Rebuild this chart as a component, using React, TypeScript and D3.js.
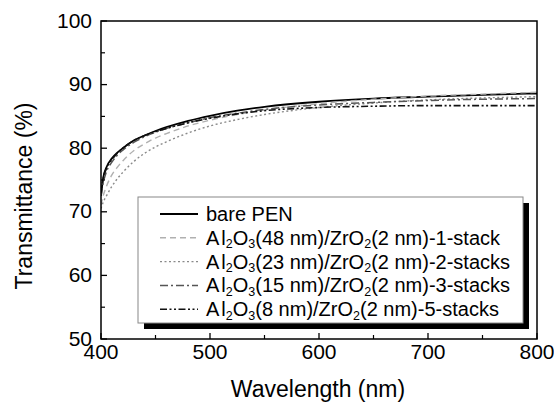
import React from "react";
import * as d3 from "d3";

const wavelengths = [400, 402, 405, 410, 415, 420, 430, 440, 450, 460, 480, 500, 525, 550, 600, 650, 700, 750, 800];
const barePEN = [72.5, 75.3, 77.0, 78.4, 79.3, 80.0, 81.2, 82.0, 82.7, 83.3, 84.3, 85.1, 85.9, 86.5, 87.3, 87.8, 88.1, 88.4, 88.6];
const stack1 = [71.0, 72.5, 74.0, 75.8, 77.0, 78.0, 79.6, 80.7, 81.6, 82.3, 83.5, 84.4, 85.3, 86.0, 87.0, 87.7, 88.2, 88.5, 88.8];
const stack2 = [70.5, 71.5, 72.5, 74.0, 75.2, 76.2, 77.9, 79.2, 80.2, 81.0, 82.4, 83.5, 84.5, 85.3, 86.4, 87.1, 87.6, 87.9, 88.1];
const stack3 = [72.5, 74.5, 76.3, 77.8, 78.9, 79.7, 80.9, 81.8, 82.5, 83.1, 84.0, 84.8, 85.5, 86.1, 86.8, 87.2, 87.5, 87.7, 87.8];
const stack5 = [73.0, 75.2, 76.8, 78.2, 79.2, 80.0, 81.2, 82.0, 82.6, 83.1, 84.0, 84.7, 85.4, 85.9, 86.4, 86.6, 86.7, 86.7, 86.7];

const xTicks = [400, 500, 600, 700, 800];
const yTicks = [50, 60, 70, 80, 90, 100];
const xMinor = [450, 550, 650, 750];
const yMinor = [55, 65, 75, 85, 95];

const legendThick = ["48", "23", "15", "8"];
const legendStacks = ["1-stack", "2-stacks", "3-stacks", "5-stacks"];

const seriesStyles = [
  { color: "#000", dash: "", width: 1.8 },
  { color: "#b0b0b0", dash: "6,4", width: 1.4 },
  { color: "#8a8a8a", dash: "2,2.5", width: 1.4 },
  { color: "#555", dash: "8,3,2,3", width: 1.5 },
  { color: "#111", dash: "7,2.5,2,2.5,2,2.5", width: 1.6 },
];

const FONT = "'Liberation Sans', Arial, sans-serif";

export default function App() {
  const W = 554, H = 403;
  const left = 101, right = 537, top = 21, bottom = 339;
  const x = d3.scaleLinear().domain([400, 800]).range([left, right]);
  const y = d3.scaleLinear().domain([50, 100]).range([bottom, top]);
  const line = d3.line<number>().x((_, i) => x(wavelengths[i])).y((d) => y(d)).curve(d3.curveMonotoneX);
  const allSeries = [barePEN, stack1, stack2, stack3, stack5];

  const lgX = 138, lgY = 197, lgW = 385, lgH = 126;
  const rowY = (i: number) => 214 + i * 23.8;

  const sub = (t: string) => (
    <tspan fontSize={12.5} dy={3.5}>{t}</tspan>
  );
  const alLabel = (thick: string, st: string) => (
    <>
      <tspan>A</tspan>
      <tspan dx={2}>l</tspan>
      {sub("2")}
      <tspan dy={-3.5}>O</tspan>
      {sub("3")}
      <tspan dy={-3.5}>{`(${thick} nm)/ZrO`}</tspan>
      {sub("2")}
      <tspan dy={-3.5}>{`(2 nm)-${st}`}</tspan>
    </>
  );

  return (
    <svg width={W} height={H} style={{ position: "absolute", left: 0, top: 0, background: "#fff" }} fontFamily={FONT}>
      <rect x={0} y={0} width={W} height={H} fill="#fff" />
      <defs>
        <clipPath id="plotclip">
          <rect x={left} y={top} width={right - left} height={bottom - top} />
        </clipPath>
      </defs>
      <g clipPath="url(#plotclip)">
        {allSeries.map((s, k) => (
          <path key={k} d={line(s) || ""} fill="none" stroke={seriesStyles[k].color}
            strokeWidth={seriesStyles[k].width} strokeDasharray={seriesStyles[k].dash} />
        ))}
      </g>
      <rect x={left} y={top} width={right - left} height={bottom - top} fill="none" stroke="#000" strokeWidth={1.5} />
      {xTicks.map((t) => (
        <g key={"xt" + t}>
          <line x1={x(t)} x2={x(t)} y1={bottom} y2={bottom - 6} stroke="#000" strokeWidth={1.3} />
          <text x={x(t)} y={bottom + 20} textAnchor="middle" fontSize={21}>{t}</text>
        </g>
      ))}
      {xMinor.map((t) => (
        <line key={"xm" + t} x1={x(t)} x2={x(t)} y1={bottom} y2={bottom - 4} stroke="#000" strokeWidth={1.2} />
      ))}
      {yTicks.map((t) => (
        <g key={"yt" + t}>
          <line x1={left} x2={left + 6} y1={y(t)} y2={y(t)} stroke="#000" strokeWidth={1.3} />
          <text x={92} y={y(t) + 6.5} textAnchor="end" fontSize={21}>{t}</text>
        </g>
      ))}
      {yMinor.map((t) => (
        <line key={"ym" + t} x1={left} x2={left + 4} y1={y(t)} y2={y(t)} stroke="#000" strokeWidth={1.2} />
      ))}
      <text x={(left + right) / 2 - 1} y={397} textAnchor="middle" fontSize={23}>Wavelength (nm)</text>
      <text transform={`translate(32,196) rotate(-90)`} textAnchor="middle" fontSize={23}>Transmittance (%)</text>
      <rect x={lgX + 6} y={lgY + 6} width={lgW} height={lgH} fill="#000" />
      <rect x={lgX} y={lgY} width={lgW} height={lgH} fill="#fff" stroke="#888" strokeWidth={1} />
      {seriesStyles.map((s, i) => (
        <g key={"lg" + i}>
          <line x1={160} x2={198} y1={rowY(i)} y2={rowY(i)} stroke={s.color} strokeWidth={s.width}
            strokeDasharray={s.dash} />
          <text x={206} y={rowY(i) + 7} fontSize={20}>
            {i === 0 ? "bare PEN" : alLabel(legendThick[i - 1], legendStacks[i - 1])}
          </text>
        </g>
      ))}
    </svg>
  );
}
